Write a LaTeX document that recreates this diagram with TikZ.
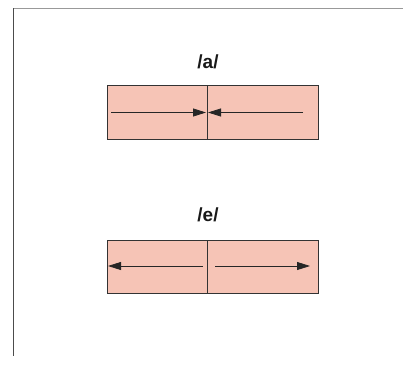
\documentclass[tikz,border=0pt]{standalone}
\usepackage{fontspec}
\setmainfont{Liberation Sans}
\usetikzlibrary{arrows.meta}
\definecolor{boxfill}{HTML}{F6C4B6}
\definecolor{boxline}{HTML}{333333}
\tikzset{
  x=1pt,y=-1pt,
  cell/.style={draw=boxline,fill=boxfill,line width=1pt,minimum width=100pt,minimum height=53pt,inner sep=0pt,outer sep=0pt},
  lbl/.style={font=\bfseries\fontsize{19}{21}\selectfont,text=black!90,inner sep=0pt},
  arr/.style={draw=black!85,line width=0.8pt,-{Triangle[length=13pt,width=8pt]}}
}
\begin{document}
\begin{tikzpicture}
\useasboundingbox (0,0) rectangle (403,366);
\draw[gray!80,line width=1.2pt] (13,8.5) -- (403,8.5);
\draw[black!70,line width=1pt] (13,8.5) -- (13,356);
% /a/
\node[lbl] (la) at (208,62) {/a/};
\node[cell,anchor=north west] (a1) at (107,86) {};
\node[cell,anchor=north west,minimum width=111pt] (a2) at (207,86) {};
\coordinate (a1s) at (111,112.5);
\coordinate (a1e) at (206,112.5);
\coordinate (a2s) at (303,112.5);
\coordinate (a2e) at (208,112.5);
\draw[arr] (a1s) -- (a1e);
\draw[arr] (a2s) -- (a2e);
% /e/
\node[lbl] (le) at (208,215) {/e/};
\node[cell,anchor=north west] (e1) at (107,240) {};
\node[cell,anchor=north west,minimum width=111pt] (e2) at (207,240) {};
\coordinate (e1s) at (203,266);
\coordinate (e1e) at (108,266);
\coordinate (e2s) at (215,266);
\coordinate (e2e) at (310,266);
\draw[arr] (e1s) -- (e1e);
\draw[arr] (e2s) -- (e2e);
\end{tikzpicture}
\end{document}
